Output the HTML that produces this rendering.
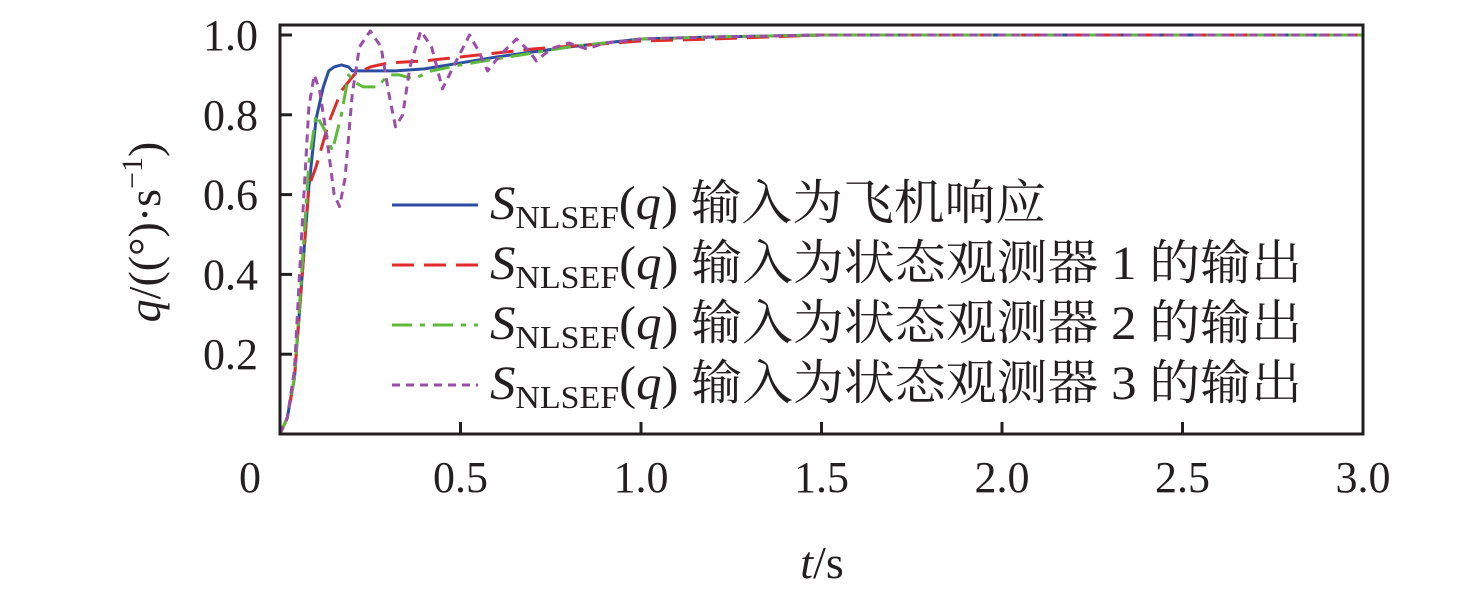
<!DOCTYPE html>
<html><head><meta charset="utf-8"><style>
body{margin:0;background:#fff;}
svg text{font-family:"Liberation Serif","Noto Serif CJK SC",serif;fill:#231f20;}
</style></head><body>
<svg id="chart" width="1476" height="600" xmlns="http://www.w3.org/2000/svg">
<g id="marks"></g>
<rect x="280" y="25" width="1083" height="409" fill="none" stroke="#231f20" stroke-width="3"/>
<g id="axes"></g>
<text x="160" y="232" font-size="46" transform="rotate(-90 160 232)" text-anchor="middle"><tspan font-style="italic">q</tspan>/((°)·s<tspan font-size="30" dy="-18">−1</tspan><tspan dy="18">)</tspan></text>
<text x="822" y="578" font-size="46" text-anchor="middle"><tspan font-style="italic">t</tspan>/s</text>
<g id="legend"></g>
</svg>
<script>
const NS="http://www.w3.org/2000/svg";
const xTicks=[0,0.5,1.0,1.5,2.0,2.5,3.0];
const xTickLabels=["0","0.5","1.0","1.5","2.0","2.5","3.0"];
const yTicks=[0.2,0.4,0.6,0.8,1.0];
const yTickLabels=["0.2","0.4","0.6","0.8","1.0"];
const blueT=[0,0.02,0.04,0.06,0.08,0.1,0.12,0.135,0.15,0.17,0.19,0.2,0.25,0.32,0.4,0.5,0.6,0.8,1.0,1.2,1.5,3.0];
const blueV=[0,0.04,0.14,0.38,0.62,0.79,0.87,0.91,0.92,0.925,0.92,0.91,0.91,0.91,0.915,0.93,0.945,0.97,0.99,0.995,1.0,1.0];
const redT=[0,0.02,0.04,0.06,0.08,0.1,0.135,0.17,0.205,0.25,0.3,0.4,0.5,0.7,1.0,1.2,1.5,3.0];
const redV=[0,0.04,0.14,0.38,0.62,0.67,0.78,0.86,0.9,0.92,0.93,0.935,0.945,0.965,0.985,0.99,1.0,1.0];
const greenT=[0,0.02,0.04,0.06,0.08,0.1,0.125,0.145,0.17,0.19,0.21,0.23,0.27,0.3,0.33,0.37,0.42,0.5,0.6,0.8,1.0,1.2,1.5,3.0];
const greenV=[0,0.04,0.14,0.4,0.68,0.8,0.76,0.71,0.8,0.9,0.88,0.87,0.87,0.9,0.9,0.89,0.91,0.925,0.94,0.97,0.99,0.995,1.0,1.0];
const purpleT=[0,0.02,0.04,0.06,0.08,0.095,0.11,0.13,0.15,0.165,0.18,0.2,0.22,0.25,0.28,0.3,0.32,0.34,0.36,0.39,0.42,0.45,0.48,0.525,0.55,0.575,0.61,0.655,0.69,0.71,0.75,0.8,0.85,0.9,1.0,1.2,1.5,3.0];
const purpleV=[0,0.04,0.16,0.5,0.82,0.9,0.86,0.74,0.6,0.57,0.64,0.85,0.97,1.01,0.97,0.86,0.77,0.8,0.92,1.01,0.97,0.865,0.92,1.0,0.96,0.91,0.95,0.99,0.96,0.935,0.965,0.98,0.965,0.98,0.99,0.995,1.0,1.0];
const X=t=>280+t*361, Y=v=>434-v*399;
const marks=document.getElementById('marks'), axes=document.getElementById('axes'), legend=document.getElementById('legend');
function mk(tag,attrs,parent){const e=document.createElementNS(NS,tag);for(const k in attrs)e.setAttribute(k,attrs[k]);parent.appendChild(e);return e;}
xTicks.forEach((t,i)=>{
  const l=mk('line',{x1:X(t),x2:X(t),y1:434,y2:422,stroke:'#231f20','stroke-width':3},axes);
  
  
  const tx=mk('text',{x:(t===0?250:X(t)),y:492,'font-size':44,'text-anchor':'middle'},axes);tx.textContent=xTickLabels[i];
  
  
});
yTicks.forEach((v,i)=>{
  const l=mk('line',{x1:280,x2:292,y1:Y(v),y2:Y(v),stroke:'#231f20','stroke-width':3},axes);
  
  
  const tx=mk('text',{x:258,y:Y(v)+15,'font-size':44,'text-anchor':'end'},axes);tx.textContent=yTickLabels[i];
  
  
});
const series=[
 {T:blueT,V:blueV,c:'#2b4ea2',d:'',name:'blue-series',leg:'输入为飞机响应'},
 {T:redT,V:redV,c:'#e02b2b',d:'22 10',name:'red-series',leg:'输入为状态观测器 1 的输出'},
 {T:greenT,V:greenV,c:'#5fba3a',d:'20 8 5 8',name:'green-series',leg:'输入为状态观测器 2 的输出'},
 {T:purpleT,V:purpleV,c:'#9b4ea8',d:'8 6',name:'purple-series',leg:'输入为状态观测器 3 的输出'}];
series.forEach((s,i)=>{
  const p=mk('polyline',{points:s.T.map((t,j)=>X(t)+','+Y(s.V[j])).join(' '),fill:'none',stroke:s.c,'stroke-width':3,'stroke-dasharray':s.d,'stroke-linejoin':'round'},marks);
  
  
  const y=205+i*60;
  const ln=mk('line',{x1:392,x2:478,y1:y,y2:y,stroke:s.c,'stroke-width':3,'stroke-dasharray':s.d},legend);
  
  
  const tx=mk('text',{x:490,y:y+14,'font-size':48,textLength:812,lengthAdjust:'spacingAndGlyphs'},legend);
  if(i===0) tx.setAttribute('textLength',556);
  tx.innerHTML='<tspan font-style="italic">S</tspan><tspan font-size="32" dy="9">NLSEF</tspan><tspan dy="-9">(</tspan><tspan font-style="italic">q</tspan>) '+s.leg;
  
  
});
</script>
</body></html>
